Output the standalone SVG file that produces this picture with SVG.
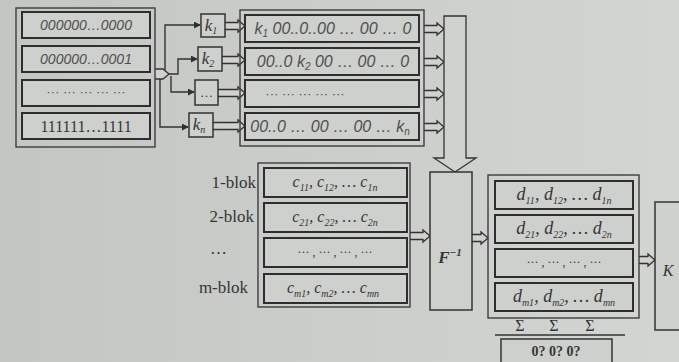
<svg xmlns="http://www.w3.org/2000/svg" width="679" height="362" viewBox="0 0 679 362">
<defs>
<linearGradient id="paper" x1="0" y1="0" x2="1" y2="0">
<stop offset="0" stop-color="#c3c6c3"/>
<stop offset="1" stop-color="#d3d5d2"/>
</linearGradient>
<marker id="ah" viewBox="0 0 8 8" refX="7" refY="4" markerWidth="7" markerHeight="7" orient="auto" markerUnits="userSpaceOnUse">
<path d="M0,0 L8,4 L0,8 Z" fill="#2f2f2f"/>
</marker>
<style>
.outer{fill:none;stroke:#3d3d3d;stroke-width:1.4}
.row{fill:#cdd0cc;stroke:#2e2e2e;stroke-width:2}
.box{fill:#cdd0cc;stroke:#333;stroke-width:1.5}
.barrow{fill:#d0d2cf;stroke:#333;stroke-width:1.3}
.line{fill:none;stroke:#333;stroke-width:1.4;marker-end:url(#ah)}
.sumline{fill:none;stroke:#333;stroke-width:1.6}
.sans{font-family:"Liberation Sans",Arial,sans-serif;font-style:italic;fill:#4e4e4e}
.ser{font-family:"Liberation Serif","Times New Roman",serif;fill:#353535}
.it{font-style:italic}
.sub{font-size:10px}
</style>
</defs>
<rect x="0" y="0" width="679" height="362" fill="url(#paper)"/>

<g id="connectors">
<path class="barrow" d="M155,69 H163 L169,74 L163,79 H155"/>
<path class="line" d="M165,70 V25 H200"/>
<path class="line" d="M169,74 H178 V59 H197"/>
<path class="line" d="M171,76 V92 H194"/>
<path class="line" d="M160,79 V127 H188"/>
<path class="barrow" d="M225,22.5 H238 V20 L245,26 L238,32 V29.5 H225"/>
<path class="barrow" d="M222,56.5 H238 V54 L245,60 L238,66 V63.5 H222"/>
<path class="barrow" d="M218,89.5 H238 V87 L245,93 L238,99 V96.5 H218"/>
<path class="barrow" d="M213,122.5 H238 V120 L245,126 L238,132 V129.5 H213"/>
<path class="barrow" d="M424,25.5 H437 V23 L444,29 L437,35 V32.5 H424"/>
<path class="barrow" d="M424,58.5 H437 V56 L444,62 L437,68 V65.5 H424"/>
<path class="barrow" d="M424,90.5 H437 V88 L444,94 L437,100 V97.5 H424"/>
<path class="barrow" d="M424,123.5 H437 V121 L444,127 L437,133 V130.5 H424"/>
<path class="barrow" d="M444,16 H466 V158 H476 L455,172 L434,158 H444 Z"/>
<path class="barrow" d="M410,232.5 H423 V230 L430,236 L423,242 V239.5 H410"/>
<path class="barrow" d="M472,234.5 H481 V232 L488,238 L481,244 V241.5 H472"/>
<path class="barrow" d="M639,256.5 H648 V254 L655,260 L648,266 V263.5 H639"/>
</g>

<g id="keyspace">
<rect class="outer" x="16" y="8" width="139" height="139"/>
<rect class="row" x="22" y="12" width="128" height="26"/>
<rect class="row" x="22" y="46" width="128" height="26"/>
<rect class="row" x="22" y="80" width="128" height="26"/>
<rect class="row" x="22" y="113" width="128" height="26"/>
<text class="sans" x="86" y="30" text-anchor="middle" font-size="14">000000…0000</text>
<text class="sans" x="86" y="64" text-anchor="middle" font-size="14">000000…0001</text>
<text class="sans" x="86" y="96" text-anchor="middle" font-size="13">··· ··· ··· ··· ···</text>
<text class="ser" x="86" y="132" text-anchor="middle" font-size="16">111111…1111</text>
</g>

<g id="k1"><rect class="box" x="201" y="14" width="24" height="23"/><text class="ser it" x="211" y="31" text-anchor="middle" font-size="17">k<tspan class="sub" dy="3">1</tspan></text></g>
<g id="k2"><rect class="box" x="198" y="47" width="24" height="24"/><text class="ser it" x="208" y="64" text-anchor="middle" font-size="17">k<tspan class="sub" dy="3">2</tspan></text></g>
<g id="kdots"><rect class="box" x="195" y="80" width="23" height="25"/><text class="ser" x="206.5" y="97" text-anchor="middle" font-size="13">…</text></g>
<g id="kn"><rect class="box" x="189" y="113" width="24" height="24"/><text class="ser it" x="199" y="130" text-anchor="middle" font-size="17">k<tspan class="sub" dy="3">n</tspan></text></g>

<g id="keyed">
<rect class="outer" x="240" y="10" width="184" height="136"/>
<rect class="row" x="245" y="15" width="174" height="27"/>
<rect class="row" x="245" y="48" width="174" height="27"/>
<rect class="row" x="245" y="80" width="174" height="27"/>
<rect class="row" x="245" y="113" width="174" height="27"/>
<text class="sans" x="333" y="34" text-anchor="middle" font-size="16">k<tspan class="sub" dy="3">1</tspan><tspan dy="-3"> 00..0..00 … 00 … 0</tspan></text>
<text class="sans" x="333" y="67" text-anchor="middle" font-size="16">00..0 k<tspan class="sub" dy="3">2</tspan><tspan dy="-3"> 00 … 00 … 0</tspan></text>
<text class="sans" x="305" y="98" text-anchor="middle" font-size="13">··· ··· ··· ··· ···</text>
<text class="sans" x="330" y="132" text-anchor="middle" font-size="16">00..0 … 00 … 00 … k<tspan class="sub" dy="3">n</tspan></text>
</g>

<g id="cblocks">
<rect class="outer" x="258" y="163" width="152" height="144"/>
<rect class="row" x="264" y="168" width="143" height="29"/>
<rect class="row" x="264" y="203" width="143" height="29"/>
<rect class="row" x="264" y="238" width="143" height="29"/>
<rect class="row" x="264" y="274" width="143" height="29"/>
<text class="ser it" x="335" y="187" text-anchor="middle" font-size="16">c<tspan class="sub" dy="4">11</tspan><tspan dy="-4">, c</tspan><tspan class="sub" dy="4">12</tspan><tspan dy="-4">, … c</tspan><tspan class="sub" dy="4">1n</tspan></text>
<text class="ser it" x="335" y="222" text-anchor="middle" font-size="16">c<tspan class="sub" dy="4">21</tspan><tspan dy="-4">, c</tspan><tspan class="sub" dy="4">22</tspan><tspan dy="-4">, … c</tspan><tspan class="sub" dy="4">2n</tspan></text>
<text class="ser" x="335" y="256" text-anchor="middle" font-size="12">··· , ··· , ··· , ···</text>
<text class="ser it" x="333" y="293" text-anchor="middle" font-size="16">c<tspan class="sub" dy="4">m1</tspan><tspan dy="-4">, c</tspan><tspan class="sub" dy="4">m2</tspan><tspan dy="-4">, … c</tspan><tspan class="sub" dy="4">mn</tspan></text>
<text class="ser" x="256" y="188" text-anchor="end" font-size="17">1-blok</text>
<text class="ser" x="254" y="222" text-anchor="end" font-size="17">2-blok</text>
<text class="ser" x="227" y="254" text-anchor="end" font-size="17">…</text>
<text class="ser" x="248" y="293" text-anchor="end" font-size="17">m-blok</text>
</g>

<g id="Finv">
<rect class="box" x="430" y="172" width="42" height="138"/>
<text class="ser it" x="450" y="263" text-anchor="middle" font-size="17" font-weight="bold">F<tspan font-size="11" dy="-7">−1</tspan></text>
</g>

<g id="dblocks">
<rect class="outer" x="488" y="175" width="151" height="143"/>
<rect class="row" x="495" y="181" width="138" height="28"/>
<rect class="row" x="495" y="215" width="138" height="28"/>
<rect class="row" x="495" y="249" width="138" height="28"/>
<rect class="row" x="495" y="283" width="138" height="28"/>
<text class="ser it" x="564" y="200" text-anchor="middle" font-size="18">d<tspan class="sub" dy="4">11</tspan><tspan dy="-4">, d</tspan><tspan class="sub" dy="4">12</tspan><tspan dy="-4">, … d</tspan><tspan class="sub" dy="4">1n</tspan></text>
<text class="ser it" x="564" y="234" text-anchor="middle" font-size="18">d<tspan class="sub" dy="4">21</tspan><tspan dy="-4">, d</tspan><tspan class="sub" dy="4">22</tspan><tspan dy="-4">, … d</tspan><tspan class="sub" dy="4">2n</tspan></text>
<text class="ser" x="564" y="266" text-anchor="middle" font-size="12">··· , ··· , ··· , ···</text>
<text class="ser it" x="564" y="302" text-anchor="middle" font-size="18">d<tspan class="sub" dy="4">m1</tspan><tspan dy="-4">, d</tspan><tspan class="sub" dy="4">m2</tspan><tspan dy="-4">, … d</tspan><tspan class="sub" dy="4">mn</tspan></text>
</g>

<g id="sums">
<text class="ser" x="520" y="331" text-anchor="middle" font-size="16">Σ</text>
<text class="ser" x="554" y="331" text-anchor="middle" font-size="16">Σ</text>
<text class="ser" x="590" y="331" text-anchor="middle" font-size="16">Σ</text>
<path class="sumline" d="M495,335 H625"/>
</g>

<g id="result">
<rect class="box" x="501" y="339" width="111" height="30"/>
<text class="ser" x="556" y="356" text-anchor="middle" font-size="14" font-weight="bold">0? 0? 0?</text>
</g>

<g id="K">
<rect class="box" x="655" y="202" width="30" height="128"/>
<text class="ser it" x="668" y="276" text-anchor="middle" font-size="16">K</text>
</g>
</svg>
